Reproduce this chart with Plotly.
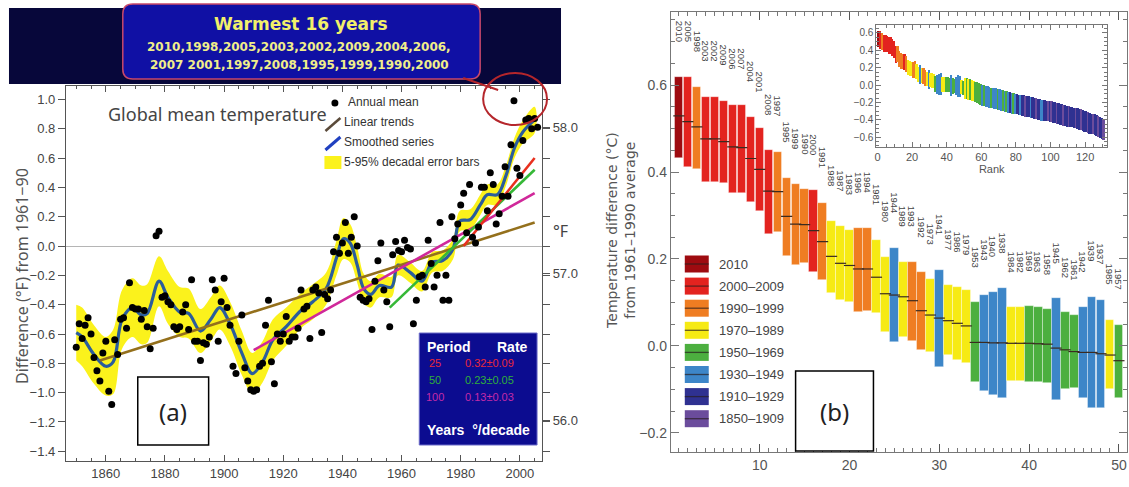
import plotly.graph_objects as go

W, H = 1129, 487
def px(x): return x / W
def py(y): return 1 - y / H

# ---------------- Panel (a) data ----------------
years_a = list(range(1850, 2007))
annual_f = [
    -0.69, -0.53, -0.63, -0.54, -0.49, -0.60, -0.76, -0.85, -0.92, -0.73,   # 1850-59
    -0.65, -0.99, -1.08, -0.64, -0.74, -0.50, -0.49, -0.56, -0.25, -0.42,   # 1860-69
    -0.43, -0.43, -0.50, -0.44, -0.55, -0.70, -0.56, 0.07, 0.10, -0.35,     # 1870-79
    -0.34, -0.38, -0.40, -0.55, -0.57, -0.55, -0.45, -0.40, -0.57, -0.23,   # 1880-89
    -0.65, -0.65, -0.78, -0.66, -0.67, -0.62, -0.23, -0.30, -0.65, -0.38,   # 1890-99
    -0.22, -0.42, -0.54, -0.82, -0.87, -0.65, -0.47, -0.83, -0.92, -0.98,   # 1900-09
    -0.99, -0.98, -0.82, -0.80, -0.54, -0.37, -0.79, -0.94, -0.60, -0.65,   # 1910-19
    -0.60, -0.48, -0.65, -0.62, -0.62, -0.56, -0.30, -0.43, -0.41, -0.63,   # 1920-29
    -0.30, -0.28, -0.32, -0.59, -0.33, -0.36, -0.30, -0.04, 0.06, -0.05,    # 1930-39
    0.02, 0.16, -0.05, 0.06, 0.20, 0.00, -0.35, -0.37, -0.38, -0.36,        # 1940-49
    -0.57, -0.24, -0.10, 0.02, -0.30, -0.38, -0.55, -0.06, 0.03, -0.03,     # 1950-59
    -0.04, 0.04, -0.01, -0.02, -0.53, -0.37, -0.21, -0.20, -0.28, 0.04,     # 1960-69
    -0.12, -0.28, -0.20, 0.16, -0.37, -0.20, -0.37, 0.20, 0.05, 0.15,       # 1970-79
    0.28, 0.36, 0.09, 0.42, 0.06, 0.02, 0.13, 0.40, 0.40, 0.24,             # 1980-89
    0.50, 0.42, 0.15, 0.22, 0.34, 0.54, 0.34, 0.69, 0.99, 0.53,             # 1990-99
    0.48, 0.72, 0.86, 0.87, 0.80, 0.87, 0.81,                               # 2000-06
]

smooth_years = [1850, 1852, 1856, 1860, 1862.5, 1865.5, 1869, 1872, 1874, 1878,
                1881, 1885, 1888, 1892, 1895.5, 1898.5, 1902, 1906, 1909.5, 1913,
                1916.5, 1921, 1926, 1930, 1934.5, 1938, 1940.3, 1942.6, 1945, 1947.2,
                1949.6, 1952.5, 1956.6, 1958.8, 1962.9, 1966.9, 1970.4, 1973.9, 1977.4, 1979.7,
                1983.2, 1986.6, 1989, 1992.4, 1995.3, 1998.2, 2001.1, 2005]
smooth_vals = [-0.59, -0.62, -0.74, -0.82, -0.79, -0.50, -0.42, -0.47, -0.46, -0.24,
               -0.35, -0.45, -0.46, -0.58, -0.50, -0.42, -0.53, -0.73, -0.87, -0.79,
               -0.64, -0.55, -0.44, -0.38, -0.29, -0.08, 0.05, 0.02, -0.13, -0.29,
               -0.33, -0.27, -0.28, -0.13, -0.18, -0.24, -0.11, -0.10, -0.02, 0.17,
               0.18, 0.28, 0.35, 0.35, 0.48, 0.67, 0.78, 0.86]
band_half = [0.19, 0.20, 0.20, 0.20, 0.22, 0.20, 0.20, 0.20, 0.20, 0.17,
             0.18, 0.17, 0.17, 0.15, 0.15, 0.15, 0.15, 0.15, 0.14, 0.14,
             0.14, 0.13, 0.12, 0.12, 0.11, 0.12, 0.14, 0.13, 0.12, 0.10,
             0.09, 0.08, 0.07, 0.07, 0.07, 0.07, 0.07, 0.07, 0.07, 0.07,
             0.07, 0.07, 0.07, 0.07, 0.07, 0.07, 0.08, 0.09]

trend150_x, trend150_y = [1858, 2005], [-0.78, 0.16]
trend100_x, trend100_y = [1910, 2005], [-0.71, 0.36]
trend50_x, trend50_y = [1956, 2005], [-0.42, 0.52]
trend25_x, trend25_y = [1981, 2005], [0.00, 0.60]

warm_title = "Warmest 16 years"
warm_line1 = "2010,1998,2005,2003,2002,2009,2004,2006,"
warm_line2 = "2007 2001,1997,2008,1995,1999,1990,2000"
rate_rows = [("25", "0.32\u00b10.09", "#e8283a"),
             ("50", "0.23\u00b10.05", "#2fae3a"),
             ("100", "0.13\u00b10.03", "#c42aa8")]

# ---------------- Panel (b) data ----------------
ranks = list(range(1, 51))
rank_years = [2010, 2005, 1998, 2003, 2002, 2009, 2006, 2007, 2004, 2001,
              2008, 1997, 1995, 1999, 1990, 2000, 1991, 1988, 1987, 1983,
              1996, 1994, 1981, 1980, 1944, 1989, 1993, 1992, 1973, 1941,
              1977, 1986, 1979, 1953, 1943, 1940, 1938, 1984, 1982, 1969,
              1963, 1958, 1945, 1962, 1961, 1942, 1939, 1937, 1985, 1957]
rank_center = [0.529, 0.516, 0.504, 0.476, 0.476, 0.470, 0.458, 0.456, 0.431, 0.406,
               0.356, 0.355, 0.298, 0.280, 0.279, 0.265, 0.240, 0.206, 0.190, 0.185,
               0.177, 0.177, 0.158, 0.120, 0.117, 0.113, 0.104, 0.081, 0.071, 0.064,
               0.058, 0.052, 0.046, 0.008, 0.008, 0.007, 0.007, 0.006, 0.006, 0.006,
               0.005, 0.004, -0.005, -0.009, -0.013, -0.015, -0.015, -0.018, -0.021, -0.034]
rank_low = [0.433, 0.412, 0.408, 0.378, 0.378, 0.375, 0.352, 0.352, 0.331, 0.311,
            0.258, 0.262, 0.206, 0.187, 0.190, 0.169, 0.152, 0.121, 0.106, 0.102,
            0.079, 0.080, 0.075, 0.033, 0.010, 0.021, 0.012, -0.009, -0.013, -0.048,
            -0.021, -0.032, -0.040, -0.084, -0.103, -0.113, -0.120, -0.080, -0.080, -0.082,
            -0.083, -0.086, -0.124, -0.100, -0.097, -0.120, -0.143, -0.142, -0.100, -0.120]
rank_high = [0.618, 0.618, 0.595, 0.573, 0.573, 0.564, 0.555, 0.555, 0.526, 0.502,
             0.450, 0.447, 0.387, 0.372, 0.360, 0.358, 0.329, 0.287, 0.275, 0.267,
             0.271, 0.272, 0.244, 0.205, 0.225, 0.194, 0.194, 0.169, 0.153, 0.175,
             0.140, 0.135, 0.129, 0.100, 0.117, 0.125, 0.133, 0.089, 0.089, 0.092,
             0.090, 0.084, 0.110, 0.077, 0.071, 0.090, 0.113, 0.106, 0.060, 0.048]

legend_labels = ["2010", "2000\u20132009", "1990\u20131999", "1970\u20131989",
                 "1950\u20131969", "1930\u20131949", "1910\u20131929", "1850\u20131909"]
legend_colors = ["#9e0b10", "#e3231f", "#ef7d22", "#f6ea14",
                 "#4caf3f", "#3d86c8", "#2f3191", "#6b4c9c"]

# inset: ranks 51-131
inset_ranks_ext = list(range(51, 132))
inset_center_ext = [
    -0.04, -0.04, -0.05, -0.05, -0.06, -0.07, -0.08, -0.09, -0.10, -0.11,
    -0.12, -0.12, -0.13, -0.13, -0.14, -0.15, -0.15, -0.16, -0.16, -0.17,
    -0.17, -0.18, -0.18, -0.19, -0.19, -0.20, -0.20, -0.21, -0.21, -0.22,
    -0.22, -0.23, -0.23, -0.24, -0.24, -0.25, -0.25, -0.25, -0.26, -0.26,
    -0.27, -0.27, -0.28, -0.28, -0.29, -0.29, -0.29, -0.30, -0.30, -0.31,
    -0.31, -0.32, -0.32, -0.33, -0.33, -0.34, -0.34, -0.35, -0.35, -0.36,
    -0.36, -0.37, -0.37, -0.38, -0.38, -0.39, -0.40, -0.40, -0.41, -0.42,
    -0.42, -0.43, -0.44, -0.45, -0.45, -0.46, -0.47, -0.48, -0.49, -0.50, -0.51]
inset_codes_ext = list(
    "YGYGYYGG" "GGBG" "BBBGBBBGBB" "GBGBDBGB"
    "DDBDDPDDBDDPDDBBDDPD"
    "PDDPDDDPDDPDDDPDDPDDDPDDPDDPDDP")
inset_half_ext = 0.12

code_color = {"Y": "#f6ea14", "G": "#4caf3f", "B": "#3d86c8", "D": "#2f3191", "P": "#6b4c9c"}

def year_color(y):
    if y == 2010: return legend_colors[0]
    if y >= 2000: return legend_colors[1]
    if y >= 1990: return legend_colors[2]
    if y >= 1970: return legend_colors[3]
    if y >= 1950: return legend_colors[4]
    if y >= 1930: return legend_colors[5]
    if y >= 1910: return legend_colors[6]
    return legend_colors[7]

rank_colors = [year_color(y) for y in rank_years]

# ---------------- figure ----------------
fig = go.Figure()
GRAY = "#555555"
NARROW = "Liberation Sans Narrow, Arial Narrow, Liberation Sans, sans-serif"

band_x = smooth_years + smooth_years[::-1]
band_y = [c + h for c, h in zip(smooth_vals, band_half)] + \
         [c - h for c, h in zip(smooth_vals, band_half)][::-1]
fig.add_trace(go.Scatter(x=band_x, y=band_y, fill="toself", fillcolor="#fbf21c",
                         line=dict(color="#fbf21c", width=0, shape="spline"),
                         mode="lines", hoverinfo="skip", xaxis="x", yaxis="y"))
fig.add_trace(go.Scatter(x=smooth_years, y=smooth_vals, mode="lines",
                         line=dict(color="#2b5d9c", width=3.2, shape="spline"),
                         xaxis="x", yaxis="y"))
for tx, ty, col in [(trend150_x, trend150_y, "#94701c"),
                    (trend100_x, trend100_y, "#d0289a"),
                    (trend50_x, trend50_y, "#36b837"),
                    (trend25_x, trend25_y, "#e8301e")]:
    fig.add_trace(go.Scatter(x=tx, y=ty, mode="lines", line=dict(color=col, width=2.6),
                             xaxis="x", yaxis="y"))
fig.add_trace(go.Scatter(x=years_a, y=annual_f, mode="markers",
                         marker=dict(color="black", size=7), xaxis="x", yaxis="y"))
fig.add_trace(go.Scatter(x=[1900], y=[57], mode="markers", marker=dict(opacity=0),
                         xaxis="x", yaxis="y4", hoverinfo="skip"))

# panel (b) bars
fig.add_trace(go.Bar(x=ranks, y=[h - l for h, l in zip(rank_high, rank_low)], base=rank_low,
                     marker=dict(color=rank_colors, line=dict(width=0.6, color="rgba(255,255,255,0.6)")),
                     width=0.96, xaxis="x2", yaxis="y2"))
fig.add_trace(go.Scatter(x=ranks, y=rank_center, mode="markers",
                         marker=dict(symbol="line-ew", size=8, line=dict(width=1.2, color="#3a2a20")),
                         xaxis="x2", yaxis="y2"))

# inset bars
inset_ranks = ranks + inset_ranks_ext
inset_low = rank_low + [c - inset_half_ext for c in inset_center_ext]
inset_high = rank_high + [c + inset_half_ext for c in inset_center_ext]
inset_cols = rank_colors + [code_color[c] for c in inset_codes_ext]
fig.add_trace(go.Bar(x=inset_ranks, y=[h - l for h, l in zip(inset_high, inset_low)], base=inset_low,
                     marker=dict(color=inset_cols, line=dict(width=0)), width=1.0,
                     xaxis="x3", yaxis="y3"))

tickfont_a = dict(family=NARROW, size=13, color="#444")
fig.update_layout(
    width=W, height=H, margin=dict(l=0, r=0, t=0, b=0),
    paper_bgcolor="white", plot_bgcolor="white", showlegend=False, bargap=0,
    xaxis=dict(domain=[px(64), px(541)], range=[1846.5, 2007.5], anchor="y",
               tickvals=[1860, 1880, 1900, 1920, 1940, 1960, 1980, 2000],
               ticks="inside", ticklen=6, tickcolor=GRAY, showline=True, linecolor=GRAY,
               mirror="ticks", showgrid=False, zeroline=False, tickfont=tickfont_a,
               minor=dict(dtick=5, tick0=1850, ticks="inside", ticklen=3, tickcolor=GRAY)),
    yaxis=dict(domain=[py(461), py(86)], range=[-1.466, 1.091], anchor="x",
               dtick=0.2, tick0=0, tickformat=".1f", ticks="outside", ticklen=7, tickcolor=GRAY,
               showline=True, linecolor=GRAY, mirror="ticks", showgrid=False,
               zeroline=True, zerolinecolor="#b5b5b5", zerolinewidth=1, tickfont=tickfont_a),
    yaxis4=dict(overlaying="y", side="right", anchor="x", range=[55.724, 58.281],
                tickvals=[56, 57, 58], tickformat=".1f", ticks="outside", ticklen=7,
                tickcolor=GRAY, showgrid=False, zeroline=False, showline=False, tickfont=tickfont_a),
    xaxis2=dict(domain=[px(670), px(1127)], range=[0.1, 50.9], anchor="y2",
                tickvals=[10, 20, 30, 40, 50], ticks="inside", ticklen=8, tickcolor=GRAY,
                showline=True, linecolor="#777", mirror="ticks", showgrid=False, zeroline=False,
                tickfont=dict(family="Liberation Sans, sans-serif", size=14, color="#555"),
                minor=dict(dtick=1, tick0=0, ticks="inside", ticklen=4, tickcolor="#777")),
    yaxis2=dict(domain=[py(452), py(12)], range=[-0.244, 0.768], anchor="x2",
                tickvals=[-0.2, 0.0, 0.2, 0.4, 0.6], tickformat=".1f", ticks="inside", ticklen=8,
                tickcolor="#777", showline=True, linecolor="#777", mirror="ticks", showgrid=False,
                zeroline=False, tickfont=dict(family="Liberation Sans, sans-serif", size=14, color="#555"),
                minor=dict(dtick=0.05, tick0=0, ticks="inside", ticklen=4, tickcolor="#777")),
    xaxis3=dict(domain=[px(876), px(1107)], range=[-0.58, 132.7], anchor="y3",
                tickvals=[0, 20, 40, 60, 80, 100, 120], ticks="inside", ticklen=5, tickcolor="#777",
                showline=True, linecolor="#777", mirror="ticks", showgrid=False, zeroline=False,
                tickfont=dict(family="Liberation Sans, sans-serif", size=11, color="#555"),
                minor=dict(dtick=5, ticks="inside", ticklen=3, tickcolor="#777"),
                title=dict(text="Rank", font=dict(family="Liberation Sans, sans-serif", size=11, color="#555"),
                           standoff=2)),
    yaxis3=dict(domain=[py(147), py(25)], range=[-0.715, 0.692], anchor="x3",
                tickvals=[-0.6, -0.4, -0.2, 0.0, 0.2, 0.4, 0.6], tickformat=".1f", ticks="inside",
                ticklen=5, tickcolor="#777", showline=True, linecolor="#777", mirror="ticks",
                showgrid=False, zeroline=False,
                tickfont=dict(family="Liberation Sans, sans-serif", size=10, color="#555"),
                minor=dict(dtick=0.05, ticks="inside", ticklen=3, tickcolor="#777")),
)

shapes = []
ann = []

def text_px(x, y, text, font, xanchor="center", yanchor="middle", angle=0):
    ann.append(dict(x=px(x), y=py(y), xref="paper", yref="paper", text=text, showarrow=False,
                    xanchor=xanchor, yanchor=yanchor, textangle=angle, font=font))

# banner
shapes.append(dict(type="rect", xref="paper", yref="paper", x0=px(7), x1=px(560), y0=py(84), y1=py(8),
                   fillcolor="#07073a", line=dict(width=0), layer="above"))
def rounded(x0, y0, x1, y1, r):
    return (f"M {px(x0+r)},{py(y0)} L {px(x1-r)},{py(y0)} Q {px(x1)},{py(y0)} {px(x1)},{py(y0+r)} "
            f"L {px(x1)},{py(y1-r)} Q {px(x1)},{py(y1)} {px(x1-r)},{py(y1)} "
            f"L {px(x0+r)},{py(y1)} Q {px(x0)},{py(y1)} {px(x0)},{py(y1-r)} "
            f"L {px(x0)},{py(y0+r)} Q {px(x0)},{py(y0)} {px(x0+r)},{py(y0)} Z")
shapes.append(dict(type="path", xref="paper", yref="paper", path=rounded(121, 4, 479, 79, 10),
                   fillcolor="#1010a4", line=dict(color="#c8486a", width=1.5), layer="above"))
shapes.append(dict(type="line", xref="paper", yref="paper", x0=px(462), y0=py(78), x1=px(497), y1=py(90),
                   line=dict(color="#b5262b", width=2), layer="above"))
shapes.append(dict(type="circle", xref="paper", yref="paper", x0=px(482), x1=px(546), y0=py(125), y1=py(73),
                   line=dict(color="#b5262b", width=2), layer="above"))
text_px(300, 24, f"<b>{warm_title}</b>", dict(family="DejaVu Sans", size=17, color="#f2f06a"))
text_px(298, 47, f"<b>{warm_line1}</b>", dict(family="DejaVu Sans", size=12, color="#f0ee8a"))
text_px(298, 65, f"<b>{warm_line2}</b>", dict(family="DejaVu Sans", size=12, color="#f0ee8a"))

# panel (a) texts
text_px(104, 114, "Global mean temperature", dict(family="Noto Sans", size=18, color="#444"), xanchor="left")
text_px(20, 276, "Difference (\u00b0F) from 1961\u221290", dict(family="Noto Sans", size=16, color="#555"),
        angle=-90)
text_px(559, 231, "\u00b0F", dict(family="Noto Sans", size=16, color="#444"))
# legend (a)
shapes.append(dict(type="circle", xref="paper", yref="paper", x0=px(330), x1=px(337), y0=py(106.5), y1=py(99.5),
                   fillcolor="black", line=dict(width=0)))
shapes.append(dict(type="line", xref="paper", yref="paper", x0=px(324), y0=py(131), x1=px(339), y1=py(118),
                   line=dict(color="#5a4a3a", width=2.5)))
shapes.append(dict(type="line", xref="paper", yref="paper", x0=px(324), y0=py(150), x1=px(339), y1=py(137),
                   line=dict(color="#2040c0", width=3)))
shapes.append(dict(type="rect", xref="paper", yref="paper", x0=px(323), x1=px(340), y0=py(169), y1=py(156),
                   fillcolor="#fbf21c", line=dict(width=0)))
for txt, yy, xx in [("Annual mean", 102, 345), ("Linear trends", 122, 341),
                    ("Smoothed series", 142, 341), ("5-95% decadal error bars", 162, 341)]:
    text_px(xx, yy, txt, dict(family=NARROW, size=12, color="#333"), xanchor="left")
# rate table
shapes.append(dict(type="rect", xref="paper", yref="paper", x0=px(418), x1=px(536), y0=py(445), y1=py(333),
                   fillcolor="#0c0c90", line=dict(color="#6a6ac8", width=1), layer="above"))
text_px(424, 347, "<b>Period</b>", dict(family=NARROW, size=14, color="white"), xanchor="left")
text_px(529, 347, "<b>Rate</b>", dict(family=NARROW, size=14, color="white"), xanchor="right")
for i, (per, rate, col) in enumerate(rate_rows):
    yy = 363 + i * 17
    text_px(434, yy, per, dict(family=NARROW, size=11, color=col))
    text_px(488, yy, rate, dict(family=NARROW, size=11, color=col))
text_px(477, 430, "<b>Years  \u00b0/decade</b>", dict(family=NARROW, size=14, color="white"))
# (a) box
shapes.append(dict(type="rect", xref="paper", yref="paper", x0=px(136), x1=px(207), y0=py(445), y1=py(377),
                   fillcolor="white", line=dict(color="black", width=1.5), layer="above"))
text_px(171.5, 411, "(a)", dict(family="Noto Sans", size=24, color="#222"))

# panel (b) texts
text_px(620, 230, "Temperature difference (\u00b0C)<br>from 1961\u20131990 average",
        dict(family="DejaVu Sans", size=14, color="#555"), angle=-90)
for r, yr, hi in zip(ranks, rank_years, rank_high):
    ann.append(dict(x=r, y=hi, xref="x2", yref="y2", text=str(yr), textangle=90,
                    xanchor="center", yanchor="bottom", yshift=33, showarrow=False,
                    font=dict(family=NARROW, size=9.5, color="#444")))
for i, (lab, col) in enumerate(zip(legend_labels, legend_colors)):
    yc = 264 + i * 22.1
    shapes.append(dict(type="rect", xref="paper", yref="paper", x0=px(684), x1=px(708),
                       y0=py(yc + 8.5), y1=py(yc - 8.5), fillcolor=col, line=dict(width=0)))
    shapes.append(dict(type="line", xref="paper", yref="paper", x0=px(684), x1=px(708),
                       y0=py(yc), y1=py(yc), line=dict(color="rgba(40,30,30,0.7)", width=1.3)))
    text_px(716, yc, lab, dict(family=NARROW, size=13, color="#444"), xanchor="left")
shapes.append(dict(type="rect", xref="paper", yref="paper", x0=px(795), x1=px(873), y0=py(451), y1=py(371),
                   fillcolor="white", line=dict(color="black", width=1.5), layer="above"))
text_px(834, 411, "(b)", dict(family="Noto Sans", size=24, color="#222"))

fig.update_layout(shapes=shapes, annotations=ann)
fig.write_html("out.html", config={"displayModeBar": False},
               post_script="document.body.style.margin='0px';document.body.style.overflow='hidden';")
